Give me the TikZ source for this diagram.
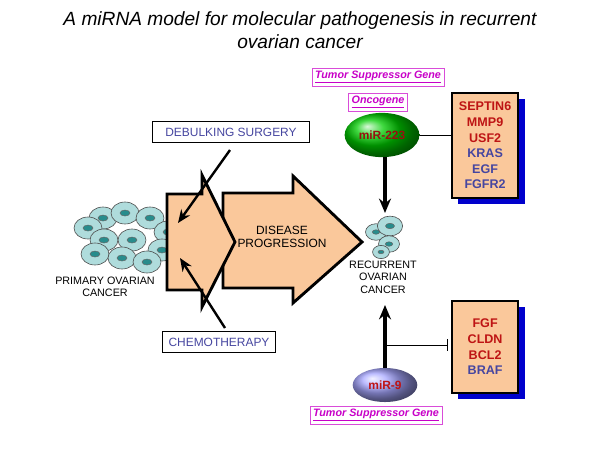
\documentclass[tikz,border=0pt]{standalone}
\usepackage{fontspec}
\setmainfont{Liberation Sans}
\usetikzlibrary{arrows.meta,shapes.geometric}
\definecolor{peach}{RGB}{250,200,155}
\definecolor{genered}{RGB}{190,20,20}
\definecolor{geneblue}{RGB}{70,70,160}
\definecolor{tsg}{RGB}{200,0,200}
\definecolor{cellfill}{RGB}{175,220,220}
\definecolor{nucleus}{RGB}{40,140,140}
\tikzset{
  lab/.style={draw,thick,fill=white,inner sep=0pt,minimum height=0.6cm,text=geneblue,font=\fontsize{10}{11}\selectfont},
  tag/.style={draw=tsg!70,fill=white,text=tsg,inner sep=2.5pt,font=\fontsize{9}{10}\itshape\bfseries},
  genes/.style={draw,line width=1.6pt,fill=peach,align=center,font=\fontsize{10.5}{13}\bfseries\selectfont,
    inner sep=0pt,minimum width=1.95cm},
  shade/.style={fill=blue!80!black,draw=none},
  cell/.style={draw=black!70,fill=cellfill,line width=0.5pt},
  txt/.style={align=center,font=\fontsize{9}{10.5}\selectfont}
}
\newcommand{\tcell}[3]{% x, y, scale
  \draw[cell] (#1,#2) ellipse ({14*#3} and {11*#3});
  \draw[fill=nucleus,draw=black!60] (#1,#2) ellipse ({5*#3} and {3*#3});}
\begin{document}
\begin{tikzpicture}[x=0.0294cm,y=-0.0294cm]
\useasboundingbox (0,0) rectangle (600,450);
% title
\node[font=\fontsize{16}{19}\itshape\selectfont,align=center] (title) at (300,30)
  {A miRNA model for molecular pathogenesis in recurrent\\ovarian cancer};

% primary cells
\foreach \x/\y in {103/218,125/213,150/218,88/228,168/232,104/240,132/240,162/250,95/254,122/258,147/262}
  {\tcell{\x}{\y}{1}}
\node[txt] (primary) at (105,287) {PRIMARY OVARIAN\\CANCER};

% therapy shape and progression arrow
\draw[line width=2.4pt,fill=peach,line join=miter] (223,193) -- (293,193) -- (293,176) -- (362,242)
  -- (293,303) -- (293,288) -- (223,288) -- cycle;
\draw[line width=2.4pt,fill=peach,line join=miter] (167,194) -- (202,194) -- (202,175) -- (235,242)
  -- (202,307) -- (202,290) -- (167,290) -- cycle;
\node[txt,font=\fontsize{10}{11.5}\selectfont] (progress) at (282,237) {DISEASE\\PROGRESSION};

% therapy labels
\node[lab,minimum width=4.6cm] (surgery) at (231,132) {DEBULKING SURGERY};
\node[lab,minimum width=3.3cm] (chemo) at (219,342) {CHEMOTHERAPY};
\coordinate (s1) at (230,150);
\coordinate (s2) at (178,223);
\coordinate (c1) at (225,328);
\coordinate (c2) at (180,258);
\draw[line width=2pt,-{Stealth[length=11pt,width=9pt]}] (s1) -- (s2);
\draw[line width=2pt,-{Stealth[length=11pt,width=9pt]}] (c1) -- (c2);

% recurrent cells
\tcell{376}{232}{0.75}
\tcell{390}{226}{0.9}
\tcell{389}{244}{0.75}
\tcell{381}{252}{0.6}
\node[txt] (recurrent) at (383,277) {RECURRENT\\OVARIAN\\CANCER};

% miR-223
\node[tag] (tsg1) at (378,77) {\underline{Tumor Suppressor Gene}};
\node[tag] (onco) at (378,102) {\underline{Oncogene}};
\node[ellipse,minimum width=2.2cm,minimum height=1.3cm,inner sep=0pt,ball color=green!80!black,
  text=genered!80!black,font=\bfseries\fontsize{10}{11}\selectfont] (mir223) at (382,135) {miR-223};
\fill[shade] (458,99) rectangle (525,204);
\node[genes,minimum height=3.09cm,anchor=north west] (box1) at (451,92)
  {\textcolor{genered}{SEPTIN6}\\\textcolor{genered}{MMP9}\\\textcolor{genered}{USF2}\\
   \textcolor{geneblue}{KRAS}\\\textcolor{geneblue}{EGF}\\\textcolor{geneblue}{FGFR2}};
\draw (mir223.east) -- (box1.west |- mir223.east);
\coordinate (r1) at (385,213);
\draw[line width=2.6pt,-{Stealth[length=12pt,width=10pt]}] (mir223.south -| r1) -- (r1);

% miR-9
\node[ellipse,minimum width=1.9cm,minimum height=1cm,inner sep=0pt,ball color=blue!35!white,
  text=genered,font=\bfseries\fontsize{10}{11}\selectfont] (mir9) at (385,385) {miR-9};
\node[tag] (tsg2) at (376,415) {\underline{Tumor Suppressor Gene}};
\fill[shade] (458,307) rectangle (525,399);
\node[genes,minimum height=2.7cm,anchor=north west] (box2) at (451,300)
  {\textcolor{genered}{FGF}\\\textcolor{genered}{CLDN}\\\textcolor{genered}{BCL2}\\\textcolor{geneblue}{BRAF}};
\coordinate (r2) at (385,305);
\coordinate (m9) at (385,345);
\draw[line width=2.6pt,-{Stealth[length=12pt,width=10pt]}] (mir9.north) -- (r2);
\draw[-{Bar[width=10pt]}] (m9) -- (447,345);
\end{tikzpicture}
\end{document}
